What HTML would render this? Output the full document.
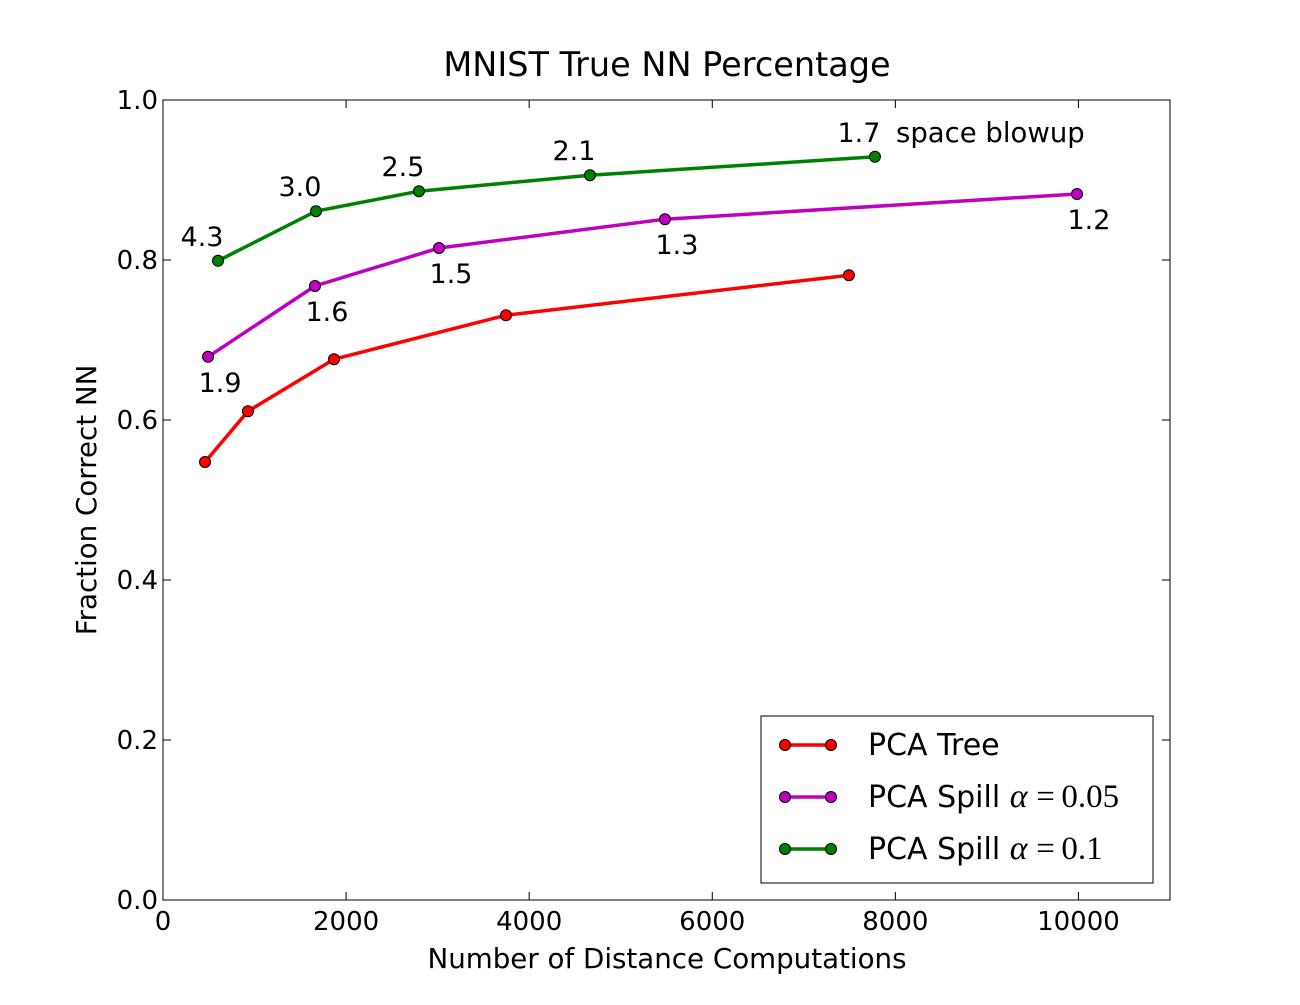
<!DOCTYPE html>
<html><head><meta charset="utf-8"><style>
body{margin:0;background:#fff}
svg text{font-family:"DejaVu Sans","Liberation Sans",sans-serif;fill:#000}
</style></head><body>
<svg id="chart" width="1300" height="1000"></svg>
<script>
const xTicks=[0,2000,4000,6000,8000,10000];
const yTicks=[0.0,0.2,0.4,0.6,0.8,1.0];
const redX=[459,928,1868,3747,7493];
const redY=[0.5475,0.611,0.676,0.731,0.781];
const magX=[492,1660,3015,5483,9984];
const magY=[0.679,0.7675,0.815,0.851,0.8825];
const magLabels=["1.9","1.6","1.5","1.3","1.2"];
const grnX=[601,1671,2796,4664,7777];
const grnY=[0.799,0.861,0.886,0.906,0.929];
const grnLabels=["4.3","3.0","2.5","2.1","1.7"];

const L=163,R=1170,T=100,B=900,XMAX=11000;
const sx=v=>L+v/XMAX*(R-L);
const sy=v=>B-v*(B-T);
const svg=document.getElementById('chart');
const NS='http://www.w3.org/2000/svg';
function mk(tag,attrs,parent){const e=document.createElementNS(NS,tag);for(const k in attrs)e.setAttribute(k,attrs[k]);(parent||svg).appendChild(e);return e;}

const frame=mk('rect',{x:L,y:T,width:R-L,height:B-T,fill:'none',stroke:'#000','stroke-width':1});



xTicks.forEach(v=>{
  const x=sx(v);
  mk('line',{x1:x,y1:B,x2:x,y2:B-8,stroke:'#000'});
  mk('line',{x1:x,y1:T,x2:x,y2:T+8,stroke:'#000'});
  const t=mk('text',{x:x,y:B+30,'text-anchor':'middle','font-size':26});
  t.textContent=v;
  
  
});
yTicks.forEach(v=>{
  const y=sy(v);
  mk('line',{x1:L,y1:y,x2:L+8,y2:y,stroke:'#000'});
  mk('line',{x1:R,y1:y,x2:R-8,y2:y,stroke:'#000'});
  const t=mk('text',{x:L-5,y:y+9,'text-anchor':'end','font-size':26});
  t.textContent=v.toFixed(1);
  
  
});

function series(xs,ys,color,name){
  const g=mk('g',{});
  
  
  mk('polyline',{points:xs.map((x,i)=>sx(x)+','+sy(ys[i])).join(' '),fill:'none',stroke:color,'stroke-width':3.5},g);
  xs.forEach((x,i)=>{
    const c=mk('circle',{cx:sx(x),cy:sy(ys[i]),r:5.5,fill:color,stroke:'#000','stroke-width':1},g);
    
    
  });
}
series(redX,redY,'#ff0000','series-pca-tree');
series(magX,magY,'#bf00bf','series-pca-spill-005');
series(grnX,grnY,'#008000','series-pca-spill-01');

magX.forEach((x,i)=>{
  const t=mk('text',{x:sx(x)+12,y:sy(magY[i])+35,'text-anchor':'middle','font-size':27});
  t.textContent=magLabels[i];
  
  
});
grnX.forEach((x,i)=>{
  const t=mk('text',{x:sx(x)-16,y:sy(grnY[i])-15,'text-anchor':'middle','font-size':27});
  t.textContent=grnLabels[i];
  
  
});
const sb=mk('text',{x:896,y:142,'font-size':27.5});
sb.textContent='space blowup';



const title=mk('text',{x:667,y:76,'text-anchor':'middle','font-size':33.5});
title.textContent='MNIST True NN Percentage';


const xt=mk('text',{x:667,y:968,'text-anchor':'middle','font-size':27.7});
xt.textContent='Number of Distance Computations';


const yt=mk('text',{x:0,y:0,'text-anchor':'middle','font-size':27.7,transform:'translate(96,500) rotate(-90)'});
yt.textContent='Fraction Correct NN';



const lg=mk('g',{});


mk('rect',{x:761,y:716,width:392,height:167,fill:'#fff',stroke:'#000'},lg);
const entries=[['#ff0000','PCA Tree',745],['#bf00bf','PCA Spill ',797],['#008000','PCA Spill ',849]];
const alphas=['','0.05','0.1'];
entries.forEach((e,i)=>{
  const y=e[2];
  const g=mk('g',{},lg);
  
  
  mk('line',{x1:785,y1:y,x2:831,y2:y,stroke:e[0],'stroke-width':3.5},g);
  mk('circle',{cx:785,cy:y,r:5.5,fill:e[0],stroke:'#000'},g);
  mk('circle',{cx:831,cy:y,r:5.5,fill:e[0],stroke:'#000'},g);
  const t=mk('text',{x:868,y:y+10,'font-size':30},g);
  t.textContent=e[1];
  if(alphas[i]){
    const ts=mk('tspan',{'font-family':'Liberation Serif, serif','font-style':'italic','font-size':34},t);
    ts.textContent='\u03b1';
    const ts2=mk('tspan',{'font-family':'Liberation Serif, serif','font-size':33,dx:2},t);
    ts2.textContent='\u2009=\u2009'+alphas[i];
  }
});
</script>
</body></html>
